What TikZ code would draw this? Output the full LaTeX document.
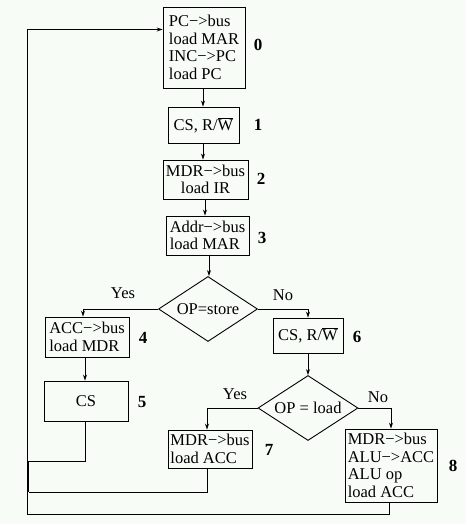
\documentclass[tikz,border=0pt]{standalone}
\usepackage{fontspec}
\setmainfont{Liberation Serif}
\usepackage{tikz}
\usetikzlibrary{shapes.geometric,arrows.meta,positioning,calc}
\definecolor{paper}{RGB}{247,252,247}

\begin{document}
\begin{tikzpicture}[x=1pt, y=-1pt,
    box/.style={draw, line width=0.9pt, align=left, inner sep=0pt, font=\fontsize{16.5}{17.5}\selectfont},
    decision/.style={draw, diamond, aspect=1.54, line width=0.9pt, inner sep=0pt, minimum width=99pt, minimum height=65pt, font=\fontsize{16.5}{17.5}\selectfont},
    num/.style={font=\fontsize{17}{18}\selectfont\bfseries},
    lbl/.style={font=\fontsize{16.5}{17.5}\selectfont},
    flowarrow/.style={-{Stealth[length=6pt,width=4pt]}, line width=0.9pt},
    backline/.style={line width=0.9pt}
]
    % Page
    \fill[paper] (0,0) rectangle (466,524);
    \useasboundingbox (0,0) rectangle (466,524);

    % Fetch
    \node[box, minimum width=82pt, minimum height=81pt] (s0) at (204,47.5) {PC−>bus\\load MAR\\INC−>PC\\load PC};
    \node[num] at (258,45) {0};
    \node[box, minimum width=71pt, minimum height=36pt] (s1) at (203.5,125) {CS, R/$\overline{\hbox{W}}$};
    \node[num] at (258,125) {1};
    \node[box, align=center, minimum width=85pt, minimum height=39pt] (s2) at (205.5,179.5) {MDR−>bus\\load IR};
    \node[num] at (261,179) {2};
    \node[box, minimum width=83pt, minimum height=39pt] (s3) at (207.5,235.5) {Addr−>bus\\load MAR};
    \node[num] at (262,238) {3};

    % Decode
    \node[decision] (store) at (208,309) {OP=store};
    \node[lbl] at (123,293) {Yes};
    \node[lbl] at (283,295) {No};

    % Store path
    \node[box, minimum width=84pt, minimum height=40pt] (s4) at (87,337) {ACC−>bus\\load MDR};
    \node[num] at (143,338) {4};
    \node[box, align=center, minimum width=84pt, minimum height=40pt] (s5) at (86,401) {CS};
    \node[num] at (142,402) {5};

    % Load / ALU path
    \node[box, minimum width=70pt, minimum height=35pt] (s6) at (308,335.5) {CS, R/$\overline{\hbox{W}}$};
    \node[num] at (357,337) {6};
    \node[decision, minimum width=100pt] (load) at (308,408) {OP = load};
    \node[lbl] at (235,394) {Yes};
    \node[lbl] at (378,397) {No};
    \node[box, minimum width=84pt, minimum height=38pt] (s7) at (210,449) {MDR−>bus\\load ACC};
    \node[num] at (269,450) {7};
    \node[box, minimum width=92pt, minimum height=73pt] (s8) at (391,465.5) {MDR−>bus\\ALU−>ACC\\ALU op\\load ACC};
    \node[num] at (453,466) {8};

    % Return points
    \coordinate (j5) at (28.5,461);
    \coordinate (j7) at (28.5,492);
    \coordinate (bot) at (27,514);
    \coordinate (top) at (27,29.5);

    % Arrows
    \draw[flowarrow] (s0.south -| 203,0) -- (s1.north -| 203,0);
    \draw[flowarrow] (s1.south -| 203,0) -- (s2.north -| 203,0);
    \draw[flowarrow] (s2.south -| 205,0) -- (s3.north -| 205,0);
    \draw[flowarrow] (s3.south -| 209,0) -- (store.north -| 209,0);
    \draw[flowarrow] (store.west) -| (s4.north -| 83,0);
    \draw[flowarrow] (store.east) -| (s6.north);
    \draw[flowarrow] (s4.south -| 85,0) -- (s5.north -| 85,0);
    \draw[flowarrow] (s6.south) -- (load.north);
    \draw[flowarrow] (load.west) -| (s7.north -| 207,0);
    \draw[flowarrow] (load.east) -| (s8.north);

    % Back to fetch
    \draw[backline] (s5.south -| 85,0) |- (j5) -- (j7);
    \draw[backline] (s7.south -| 207,0) |- (j7);
    \draw[backline] (s8.south -| 389,0) |- (bot) -- (top);
    \draw[flowarrow] (top) -- (top -| s0.west);
\end{tikzpicture}
\end{document}
